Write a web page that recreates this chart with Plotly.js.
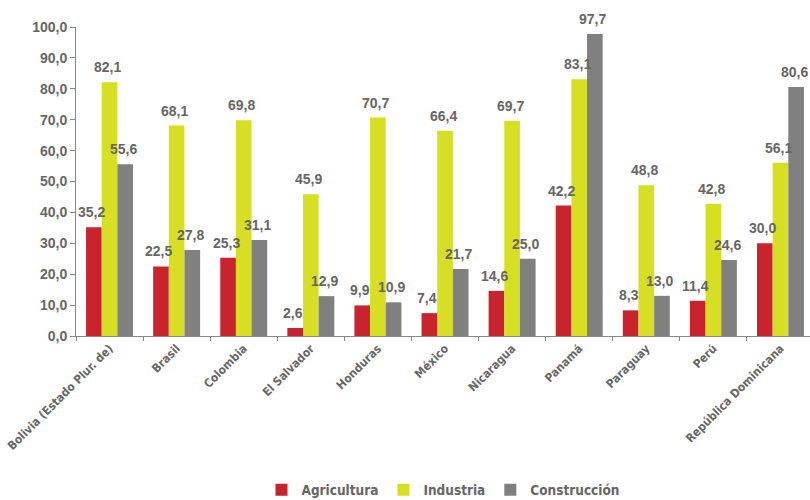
<!DOCTYPE html>
<html><head><meta charset="utf-8">
<script src="https://cdn.plot.ly/plotly-3.0.1.min.js"></script>
<style>body{margin:0;background:#fff}#chart{width:810px;height:500px}</style>
</head><body><div id="chart"></div>
<script>
const countries = ["Bolivia (Estado Plur. de)","Brasil","Colombia","El Salvador","Honduras","México","Nicaragua","Panamá","Paraguay","Perú","República Dominicana"];
const agricultura = [35.2,22.5,25.3,2.6,9.9,7.4,14.6,42.2,8.3,11.4,30.0];
const industria = [82.1,68.1,69.8,45.9,70.7,66.4,69.7,83.1,48.8,42.8,56.1];
const construccion = [55.6,27.8,31.1,12.9,10.9,21.7,25.0,97.7,13.0,24.6,80.6];
const seriesNames = ["Agricultura","Industria","Construcción"];
const colors = ["#C9232D","#D7DF23","#808080"];
const gray = "#666666";
const numFont = {family:"Liberation Sans, Arial, sans-serif", size:14, color:gray, weight:"bold"};
const narrowFont = {family:"DejaVu Sans Condensed, Liberation Sans Narrow, sans-serif", color:gray, weight:"bold"};
const fmt = v => v.toFixed(1).replace(".", ",");
const allSeries = [agricultura, industria, construccion];
const data = allSeries.map((vals,i)=>({
  type:"bar", name:seriesNames[i], x:countries, y:vals,
  marker:{color:colors[i]}, hoverinfo:"none"
}));
// bar width in pixels: plot width 734 / 10.94 categories * (1-0.3)/3
const barPx = 734/10.94*0.7/3;
const annotations = [];
allSeries.forEach((vals,i)=>{
  vals.forEach((v,j)=>{
    annotations.push({x:countries[j], y:v, xref:"x", yref:"y", text:fmt(v), showarrow:false,
      xanchor:"center", yanchor:"bottom", xshift:(i-1)*barPx-2, yshift:5, font:numFont});
  });
});
const layout = {
  width:810, height:500,
  margin:{l:76, r:0, t:27, b:164, autoexpand:false},
  paper_bgcolor:"#fff", plot_bgcolor:"#fff",
  barmode:"group", bargap:0.3, bargroupgap:0,
  separators:",.",
  showlegend:true,
  annotations:annotations,
  legend:{orientation:"h", x:0.5, xanchor:"center", xref:"paper", yref:"container", y:0.02, yanchor:"middle",
    font:Object.assign({size:13.5}, narrowFont), itemwidth:30, tracegroupgap:0},
  xaxis:{type:"category", range:[-0.5,10.44], showgrid:false, showline:true, linecolor:"#888", linewidth:1,
    ticks:"outside", tickson:"boundaries", ticklen:4, tickcolor:"#888", automargin:false,
    tickangle:-45, tickfont:Object.assign({size:11.8}, narrowFont), fixedrange:true},
  yaxis:{range:[0,100], dtick:10, tickformat:".1f", showgrid:false, zeroline:false, automargin:false,
    showline:true, linecolor:"#888", linewidth:1, ticks:"outside", ticklen:5, tickcolor:"#888",
    tickfont:numFont, fixedrange:true}
};
Plotly.newPlot("chart", data, layout, {displayModeBar:false, staticPlot:true});
</script></body></html>
